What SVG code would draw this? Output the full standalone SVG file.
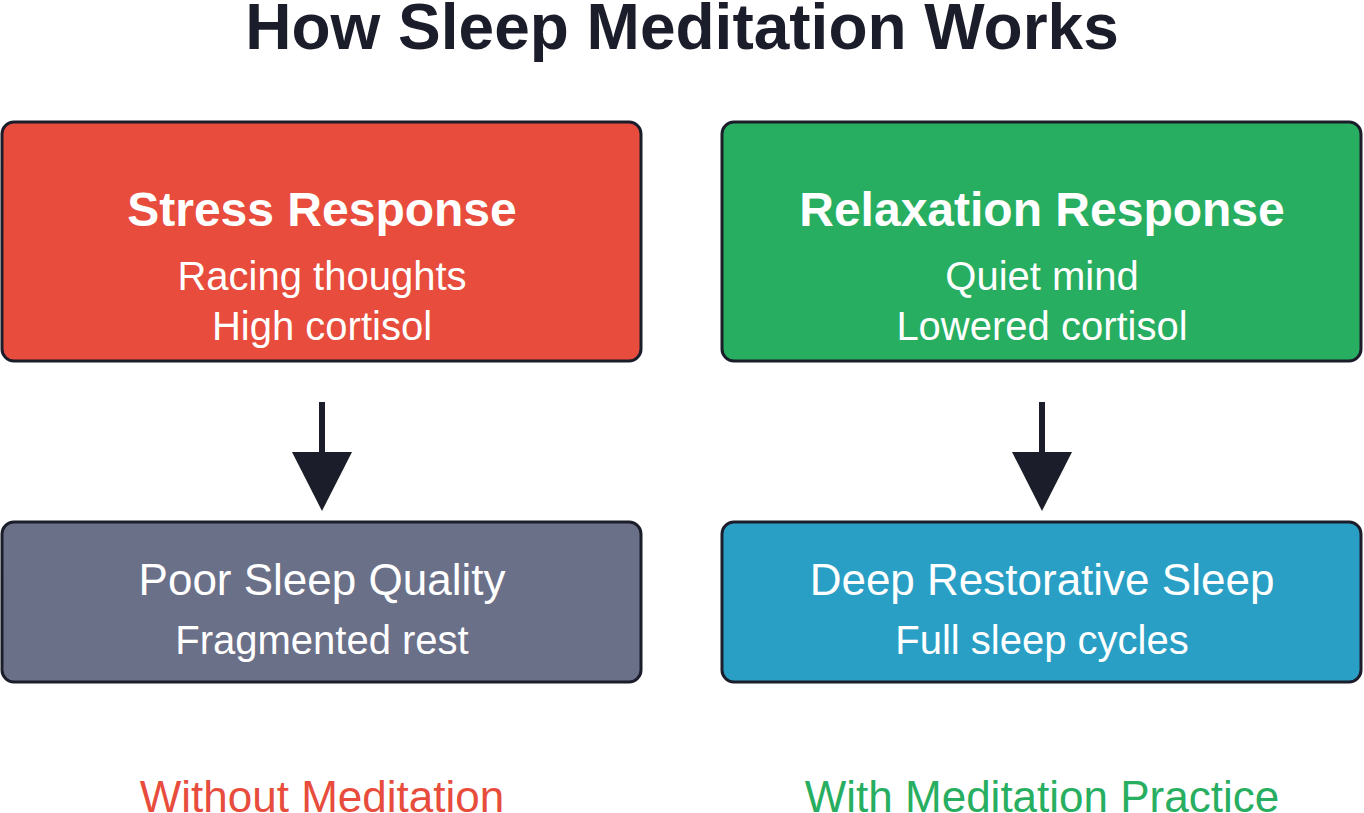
<svg xmlns="http://www.w3.org/2000/svg" width="1364" height="813" viewBox="0 0 1364 813">
<style>
.box{stroke:#1c1d2b;stroke-width:3}
.t{font-family:"Liberation Sans",Arial,sans-serif;fill:#fff;text-anchor:middle}
.b{font-weight:bold}
.conn line{stroke:#1c1d2b;stroke-width:6}
.conn polygon{fill:#1c1d2b}
</style>
<rect width="1364" height="813" fill="#fff"/>
<text x="682" y="49" class="t b" style="fill:#1c1d2b;font-size:64px">How Sleep Meditation Works</text>
<g id="stress">
<rect class="box" x="2" y="122" width="639" height="239" rx="12" fill="#e74c3c"/>
<text x="322" y="226" class="t b" font-size="48">Stress Response</text>
<text x="322" y="290" class="t" font-size="40">Racing thoughts</text>
<text x="322" y="340" class="t" font-size="40">High cortisol</text>
</g>
<g id="relax">
<rect class="box" x="722" y="122" width="639" height="239" rx="12" fill="#27ae60"/>
<text x="1042" y="226" class="t b" font-size="48">Relaxation Response</text>
<text x="1042" y="290" class="t" font-size="40">Quiet mind</text>
<text x="1042" y="340" class="t" font-size="40">Lowered cortisol</text>
</g>
<g id="poor">
<rect class="box" x="2" y="522" width="639" height="160" rx="12" fill="#6b7089"/>
<text x="322" y="595" class="t" font-size="44">Poor Sleep Quality</text>
<text x="322" y="654" class="t" font-size="40">Fragmented rest</text>
</g>
<g id="deep">
<rect class="box" x="722" y="522" width="639" height="160" rx="12" fill="#2a9fc6"/>
<text x="1042" y="595" class="t" font-size="44">Deep Restorative Sleep</text>
<text x="1042" y="654" class="t" font-size="40">Full sleep cycles</text>
</g>
<g class="conn">
<line x1="322" y1="402" x2="322" y2="455"/>
<polygon points="292,452 352,452 322,511"/>
<line x1="1042" y1="402" x2="1042" y2="455"/>
<polygon points="1012,452 1072,452 1042,511"/>
</g>
<text x="322" y="812" class="t" style="fill:#e74c3c;font-size:44px">Without Meditation</text>
<text x="1042" y="812" class="t" style="fill:#27ae60;font-size:44px">With Meditation Practice</text>
</svg>
